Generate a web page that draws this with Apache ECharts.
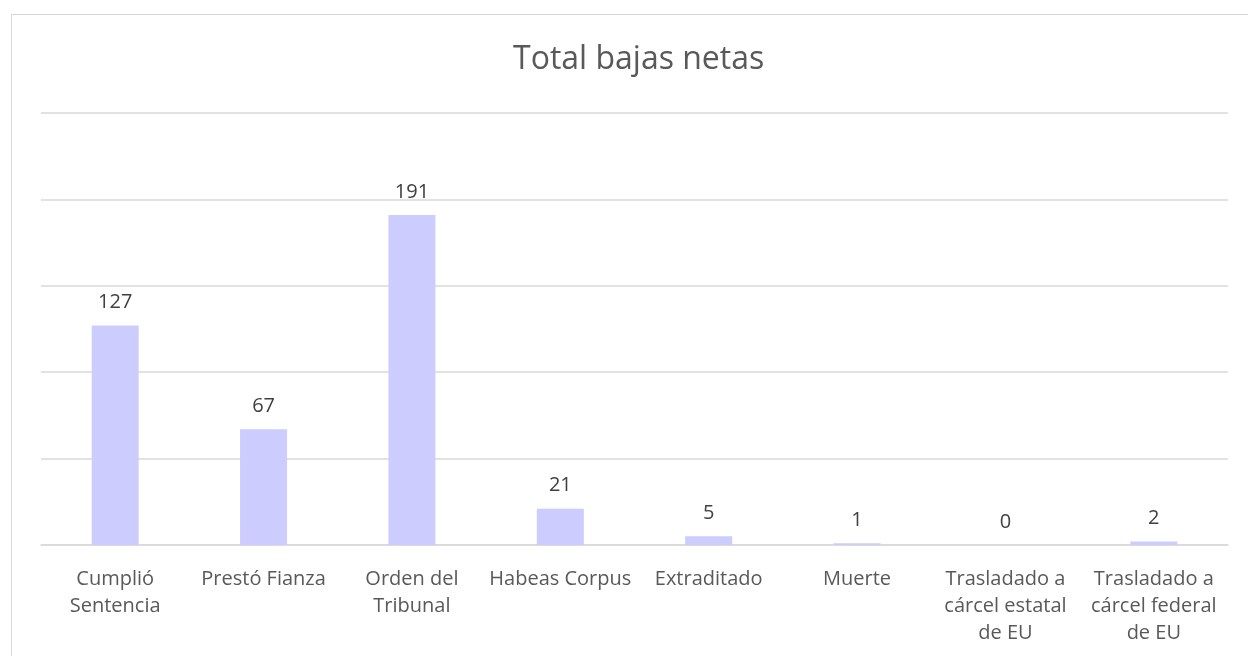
<!DOCTYPE html>
<html>
<head>
<meta charset="utf-8">
<script src="https://cdn.jsdelivr.net/npm/echarts@6/dist/echarts.min.js"></script>
<style>
  html, body { margin: 0; padding: 0; background: #fff; }
  #frame { position: absolute; left: 11px; top: 14px; width: 1300px; height: 700px; border: 1px solid #d9d9d9; }
  #main { position: absolute; left: 0; top: 0; width: 1248px; height: 656px; }
</style>
</head>
<body>
<div id="frame"></div>
<div id="main"></div>
<script>
// datos del gráfico
var categorias = [
  'Cumplió\nSentencia',
  'Prestó Fianza',
  'Orden del\nTribunal',
  'Habeas Corpus',
  'Extraditado',
  'Muerte',
  'Trasladado a\ncárcel estatal\nde EU',
  'Trasladado a\ncárcel federal\nde EU'
];
var bajas = [127, 67, 191, 21, 5, 1, 0, 2];
var titulo = 'Total bajas netas';

var fuente = '"Open Sans", sans-serif';
var chart = echarts.init(document.getElementById('main'), null, { renderer: 'canvas' });
chart.setOption({
  backgroundColor: 'transparent',
  animation: false,
  title: {
    text: titulo,
    left: 508,
    top: 39,
    textStyle: { color: '#595959', fontSize: 32, fontWeight: 'normal', fontFamily: fuente }
  },
  grid: { left: 41, right: 20, top: 113, bottom: 111 },
  xAxis: {
    type: 'category',
    data: categorias,
    axisLine: { lineStyle: { color: '#d9d9d9', width: 1.5 } },
    axisTick: { show: false },
    axisLabel: {
      color: '#595959',
      fontSize: 20,
      fontFamily: fuente,
      lineHeight: 27,
      margin: 21,
      interval: 0
    }
  },
  yAxis: {
    type: 'value',
    min: 0,
    max: 250,
    interval: 50,
    axisLabel: { show: false },
    axisLine: { show: false },
    axisTick: { show: false },
    splitLine: { lineStyle: { color: '#d9d9d9', width: 1.5 } }
  },
  series: [{
    type: 'bar',
    data: bajas,
    barWidth: 47,
    itemStyle: { color: '#ccccff' },
    label: {
      show: true,
      position: 'top',
      distance: 13,
      color: '#404040',
      fontSize: 20,
      fontFamily: fuente
    }
  }]
});
</script>
</body>
</html>
